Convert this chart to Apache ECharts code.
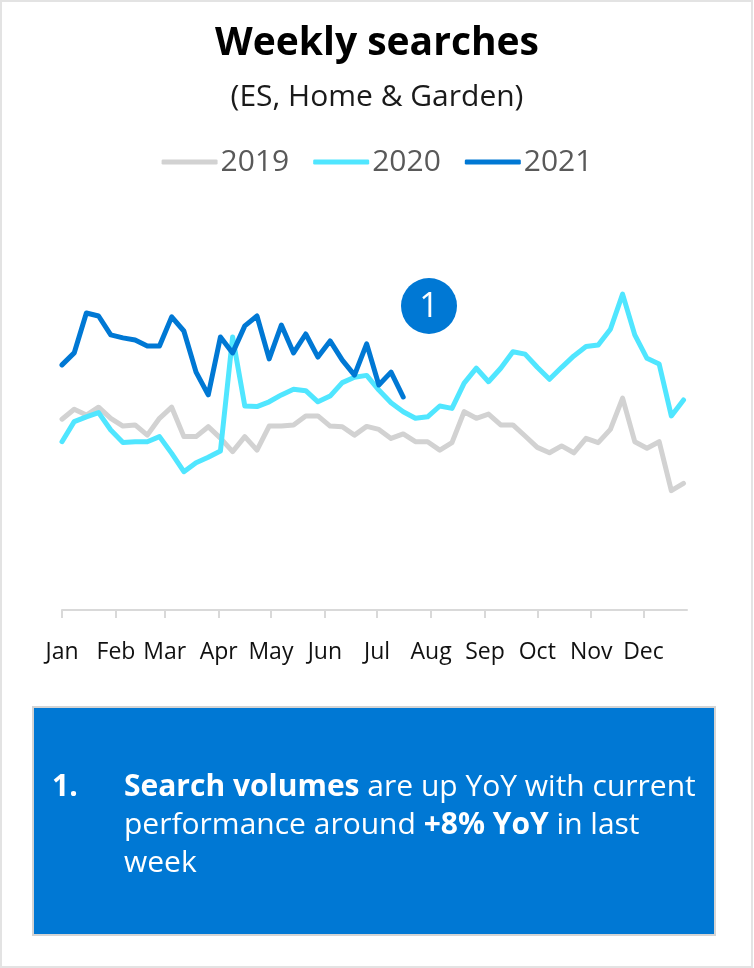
<!DOCTYPE html>
<html>
<head>
<meta charset="utf-8">
<title>Weekly searches</title>
<script src="https://cdn.jsdelivr.net/npm/echarts@6/dist/echarts.min.js"></script>
<style>
  html, body { margin: 0; padding: 0; background: #ffffff; }
  #chart { width: 754px; height: 968px; }
</style>
</head>
<body>
<div id="chart"></div>
<script>
// Weekly search index, one value per week starting 1 January
const series2019 = [63.6, 66.9, 65.0, 67.6, 63.9, 61.3, 61.7, 58.3, 63.9, 67.6, 57.8, 57.8, 61.1, 57.3,
  52.8, 57.8, 53.3, 61.3, 61.3, 61.7, 64.7, 64.7, 61.3, 61.1, 58.3, 61.2, 60.2, 57.2, 58.7, 56.1,
  56.1, 53.3, 55.8, 66.1, 63.9, 65.3, 61.7, 61.7, 58.0, 54.2, 52.4, 54.7, 52.4, 57.2, 55.8, 60.2,
  70.6, 56.1, 53.9, 56.1, 39.8, 42.2];
const series2020 = [56.1, 62.8, 64.4, 65.8, 60.0, 55.8, 56.1, 56.1, 57.8, 52.2, 46.1, 49.1, 50.9, 53.0,
  91.0, 68.0, 67.8, 69.4, 71.7, 73.6, 73.1, 69.4, 71.3, 75.8, 77.6, 78.2, 73.3, 69.1, 66.1, 63.9,
  64.4, 68.0, 67.2, 75.6, 80.6, 76.1, 80.6, 86.1, 85.3, 80.9, 76.9, 80.9, 84.7, 87.8, 88.3, 93.6,
  105.3, 91.7, 83.9, 82.0, 64.7, 70.0];
const series2021 = [81.7, 85.7, 99.0, 98.0, 91.7, 90.7, 90.0, 88.0, 88.0, 97.7, 93.0, 79.3, 71.7, 91.0,
  85.7, 94.7, 98.0, 83.7, 95.0, 85.7, 92.0, 84.3, 89.7, 83.3, 78.3, 88.7, 75.0, 79.3, 71.0];

// Month tick labels and the day of the year each month starts on
const monthLabels = ['Jan', 'Feb', 'Mar', 'Apr', 'May', 'Jun', 'Jul', 'Aug', 'Sep', 'Oct', 'Nov', 'Dec'];
const monthStartDays = [0, 31, 59, 90, 120, 151, 181, 212, 243, 273, 304, 334];

const yearNames = ['2019', '2020', '2021'];
const yearColors = ['#d2d2d2', '#50e6ff', '#0078d4'];

const FONT = '"Open Sans", "Noto Sans", sans-serif';

// Each weekly value is placed on the day-of-year axis
function toPoints(values) {
  return values.map((v, i) => [i * 7, v]);
}

const chart = echarts.init(document.getElementById('chart'), null, { renderer: 'canvas' });

chart.setOption({
  animation: false,
  backgroundColor: '#ffffff',
  title: {
    text: 'Weekly searches',
    subtext: '(ES, Home & Garden)',
    left: 'center',
    top: 19,
    itemGap: 19,
    textStyle: { fontFamily: FONT, fontSize: 39, fontWeight: 'bold', color: '#000000' },
    subtextStyle: { fontFamily: FONT, fontSize: 30, color: '#1a1a1a' }
  },
  legend: {
    top: 142,
    left: 'center',
    icon: 'roundRect',
    itemWidth: 56,
    itemHeight: 5,
    itemGap: 24,
    data: yearNames,
    textStyle: { fontFamily: FONT, fontSize: 30, color: '#595959', padding: [0, 0, 0, -2] }
  },
  grid: { left: 62, right: 67, top: 250, bottom: 358, containLabel: false },
  xAxis: {
    type: 'value',
    min: 0,
    max: 359,
    splitLine: { show: false },
    axisLine: { show: true, lineStyle: { color: '#d9d9d9', width: 2 } },
    axisTick: {
      show: true,
      length: 8,
      lineStyle: { color: '#d9d9d9', width: 2 },
      customValues: monthStartDays
    },
    axisLabel: {
      margin: 31,
      fontFamily: FONT,
      fontSize: 23,
      color: '#111111',
      customValues: monthStartDays,
      formatter: function (val) {
        const idx = monthStartDays.indexOf(val);
        return idx >= 0 ? monthLabels[idx] : '';
      }
    }
  },
  yAxis: {
    type: 'value',
    min: 0,
    max: 120,
    show: false,
    splitLine: { show: false }
  },
  series: [series2019, series2020, series2021].map((vals, k) => ({
    name: yearNames[k],
    type: 'line',
    data: toPoints(vals),
    symbol: 'none',
    smooth: false,
    z: 2 + k,
    color: yearColors[k],
    lineStyle: { width: 5, color: yearColors[k], join: 'round', cap: 'round' }
  })),
  graphic: [
    {
      type: 'rect',
      shape: { x: 1, y: 1, width: 751, height: 966 },
      style: { fill: 'none', stroke: '#e3e3e3', lineWidth: 2 },
      z: 0
    },
    {
      type: 'group',
      children: [
        {
          type: 'circle',
          shape: { cx: 429, cy: 306, r: 28 },
          style: { fill: '#0078d4' }
        },
        {
          type: 'text',
          x: 429,
          y: 307,
          style: {
            text: '1',
            fill: '#ffffff',
            font: '34px ' + FONT,
            align: 'center',
            verticalAlign: 'middle'
          }
        }
      ]
    },
    {
      type: 'rect',
      shape: { x: 33, y: 707, width: 682, height: 228 },
      style: { fill: '#0078d4', stroke: '#d4d4d4', lineWidth: 2 }
    },
    {
      type: 'text',
      x: 52,
      y: 768,
      style: {
        text: '{b|1.}',
        fill: '#ffffff',
        font: 'bold 30px ' + FONT,
        verticalAlign: 'top',
        rich: {
          b: { fontWeight: 'bold', fontFamily: FONT, fontSize: 30, fill: '#ffffff', lineHeight: 38 }
        }
      }
    },
    {
      type: 'text',
      x: 124,
      y: 768,
      style: {
        text: '{b|Search volumes} are up YoY with current\nperformance around {b|+8% YoY} in last\nweek',
        fill: '#ffffff',
        font: '30px ' + FONT,
        lineHeight: 38,
        verticalAlign: 'top',
        rich: {
          b: { fontWeight: 'bold', fontFamily: FONT, fontSize: 30, fill: '#ffffff', lineHeight: 38 }
        }
      }
    }
  ]
});
</script>
</body>
</html>
